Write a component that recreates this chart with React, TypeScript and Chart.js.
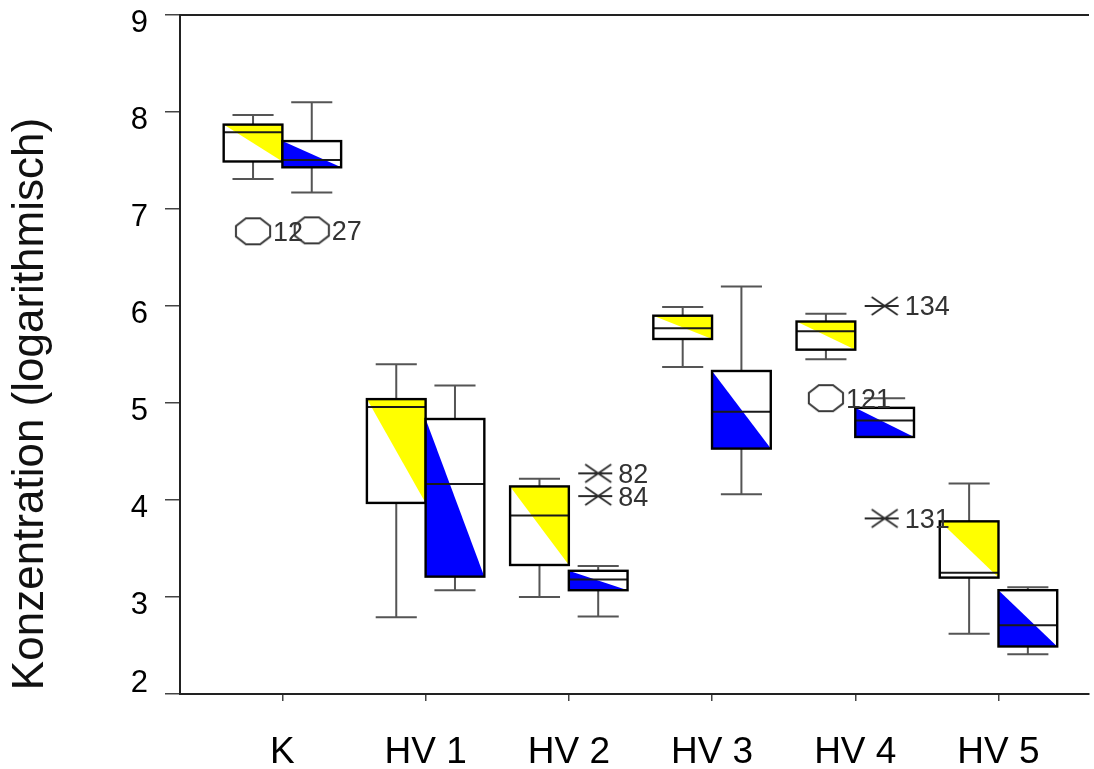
import React, { useEffect, useRef } from 'react';
import { Chart, registerables } from 'chart.js';

Chart.register(...registerables);

// ---------- data ----------
const categories = ['K', 'HV 1', 'HV 2', 'HV 3', 'HV 4', 'HV 5'];
const yTicks = [2, 3, 4, 5, 6, 7, 8, 9];
const yTitle = 'Konzentration (logarithmisch)';

// yellow series (first box of each group)
const yellowLow = [7.31, 2.79, 3.0, 5.37, 5.45, 2.62];
const yellowQ1 = [7.49, 3.97, 3.33, 5.66, 5.55, 3.2];
const yellowMedian = [7.79, 4.96, 3.84, 5.77, 5.74, 3.25];
const yellowQ3 = [7.87, 5.04, 4.14, 5.9, 5.84, 3.78];
const yellowHigh = [7.97, 5.4, 4.22, 5.99, 5.92, 4.17];

// blue series (second box of each group)
const blueLow = [7.17, 3.07, 2.8, 4.06, 4.65, 2.41];
const blueQ1 = [7.43, 3.21, 3.07, 4.53, 4.65, 2.49];
const blueMedian = [7.505, 4.165, 3.18, 4.91, 4.82, 2.71];
const blueQ3 = [7.7, 4.835, 3.27, 5.33, 4.95, 3.07];
const blueHigh = [8.1, 5.18, 3.32, 6.2, 5.05, 3.1];

// outliers (circles) and extremes (stars)
const yellowOutlierGroup = [0, 4];
const yellowOutlierValue = [6.77, 5.05];
const yellowOutlierLabel = ['12', '121'];

const blueOutlierGroup = [0];
const blueOutlierValue = [6.78];
const blueOutlierLabel = ['27'];

const blueExtremeGroup = [2, 2, 4, 4];
const blueExtremeValue = [4.275, 4.04, 6.0, 3.81];
const blueExtremeLabel = ['82', '84', '134', '131'];

// ---------- styling ----------
const FONT = '"Liberation Sans", Arial, Helvetica, sans-serif';
const YELLOW = '#FFFF00';
const BLUE = '#0000FF';
const HALF = 0.205; // half box width in category units
const OFFSET = 0.205; // offset of each box from group centre
const X_MIN = -0.715;
const X_MAX = 5.632;

function makeCircleMarker(): HTMLCanvasElement {
  const c = document.createElement('canvas');
  c.width = 42;
  c.height = 32;
  const ctx = c.getContext('2d')!;
  ctx.strokeStyle = '#3a3a3a';
  ctx.lineWidth = 2;
  const cx = 21, cy = 16, rx = 18.5, ry = 14;
  ctx.beginPath();
  for (let i = 0; i < 8; i++) {
    const a = Math.PI / 8 + (i * Math.PI) / 4;
    const x = cx + rx * Math.cos(a);
    const y = cy + ry * Math.sin(a);
    if (i === 0) ctx.moveTo(x, y);
    else ctx.lineTo(x, y);
  }
  ctx.closePath();
  ctx.stroke();
  return c;
}

function makeStarMarker(): HTMLCanvasElement {
  const c = document.createElement('canvas');
  c.width = 44;
  c.height = 24;
  const ctx = c.getContext('2d')!;
  ctx.strokeStyle = '#2a2a2a';
  ctx.lineWidth = 1.8;
  const cx = 22, cy = 12;
  ctx.beginPath();
  ctx.moveTo(cx - 13, cy - 9);
  ctx.lineTo(cx + 13, cy + 9);
  ctx.moveTo(cx - 13, cy + 9);
  ctx.lineTo(cx + 13, cy - 9);
  ctx.moveTo(cx - 20, cy);
  ctx.lineTo(cx + 14, cy);
  ctx.stroke();
  return c;
}

function drawBox(
  ctx: CanvasRenderingContext2D,
  xs: any,
  ys: any,
  center: number,
  lo: number,
  q1: number,
  med: number,
  q3: number,
  hi: number,
  color: string,
  kind: 'upper' | 'lower'
) {
  const l = xs.getPixelForValue(center - HALF);
  const r = xs.getPixelForValue(center + HALF);
  const c = xs.getPixelForValue(center);
  const capL = xs.getPixelForValue(center - HALF * 0.7);
  const capR = xs.getPixelForValue(center + HALF * 0.7);
  const pLo = ys.getPixelForValue(lo);
  const pQ1 = ys.getPixelForValue(q1);
  const pMed = ys.getPixelForValue(med);
  const pQ3 = ys.getPixelForValue(q3);
  const pHi = ys.getPixelForValue(hi);

  ctx.save();
  ctx.lineCap = 'butt';
  // whiskers
  ctx.strokeStyle = '#555';
  ctx.lineWidth = 2;
  ctx.beginPath();
  if (hi > q3) {
    ctx.moveTo(c, pQ3);
    ctx.lineTo(c, pHi);
    ctx.moveTo(capL, pHi);
    ctx.lineTo(capR, pHi);
  }
  if (lo < q1) {
    ctx.moveTo(c, pQ1);
    ctx.lineTo(c, pLo);
    ctx.moveTo(capL, pLo);
    ctx.lineTo(capR, pLo);
  }
  ctx.stroke();

  // box
  ctx.fillStyle = '#ffffff';
  ctx.fillRect(l, pQ3, r - l, pQ1 - pQ3);
  ctx.fillStyle = color;
  ctx.beginPath();
  if (kind === 'upper') {
    ctx.moveTo(l, pQ3);
    ctx.lineTo(r, pQ3);
    ctx.lineTo(r, pQ1);
  } else {
    ctx.moveTo(l, pQ3);
    ctx.lineTo(l, pQ1);
    ctx.lineTo(r, pQ1);
  }
  ctx.closePath();
  ctx.fill();

  // median
  ctx.strokeStyle = '#1a1a1a';
  ctx.lineWidth = 2;
  ctx.beginPath();
  ctx.moveTo(l, pMed);
  ctx.lineTo(r, pMed);
  ctx.stroke();

  // border
  ctx.strokeStyle = '#000';
  ctx.lineWidth = 2.4;
  ctx.strokeRect(l, pQ3, r - l, pQ1 - pQ3);
  ctx.restore();
}

const boxPlugin = {
  id: 'boxPlugin',
  beforeDatasetsDraw(chart: any) {
    const { ctx, chartArea } = chart;
    const xs = chart.scales.x;
    const ys = chart.scales.y;
    // top frame line
    ctx.save();
    ctx.strokeStyle = '#222';
    ctx.lineWidth = 2;
    ctx.beginPath();
    ctx.moveTo(chartArea.left, chartArea.top);
    ctx.lineTo(chartArea.right, chartArea.top);
    ctx.stroke();
    ctx.restore();

    for (let i = 0; i < categories.length; i++) {
      drawBox(ctx, xs, ys, i - OFFSET, yellowLow[i], yellowQ1[i], yellowMedian[i], yellowQ3[i], yellowHigh[i], YELLOW, 'upper');
      drawBox(ctx, xs, ys, i + OFFSET, blueLow[i], blueQ1[i], blueMedian[i], blueQ3[i], blueHigh[i], BLUE, 'lower');
    }
  },
  afterDatasetsDraw(chart: any) {
    const { ctx } = chart;
    ctx.save();
    ctx.font = `27px ${FONT}`;
    ctx.fillStyle = '#333';
    ctx.textAlign = 'left';
    ctx.textBaseline = 'middle';
    chart.data.datasets.forEach((ds: any, di: number) => {
      const meta = chart.getDatasetMeta(di);
      meta.data.forEach((pt: any, pi: number) => {
        const label = ds.pointLabels[pi];
        ctx.fillText(label, pt.x + 20, pt.y + 2);
      });
    });
    ctx.restore();

    // y axis title
    ctx.save();
    ctx.translate(31, 404);
    ctx.rotate(-Math.PI / 2);
    ctx.font = `44px ${FONT}`;
    ctx.fillStyle = '#111';
    ctx.textAlign = 'center';
    ctx.textBaseline = 'middle';
    ctx.fillText(yTitle, 0, 0);
    ctx.restore();
  },
};

export default function App() {
  const canvasRef = useRef<HTMLCanvasElement | null>(null);

  useEffect(() => {
    const canvas = canvasRef.current;
    if (!canvas) return;
    const circle = makeCircleMarker();
    const star = makeStarMarker();

    const chart = new Chart(canvas, {
      type: 'scatter',
      data: {
        datasets: [
          {
            label: 'yellow outliers',
            data: yellowOutlierGroup.map((g, i) => ({ x: g - OFFSET, y: yellowOutlierValue[i] })),
            pointStyle: circle as any,
            pointLabels: yellowOutlierLabel,
          } as any,
          {
            label: 'blue outliers',
            data: blueOutlierGroup.map((g, i) => ({ x: g + OFFSET, y: blueOutlierValue[i] })),
            pointStyle: circle as any,
            pointLabels: blueOutlierLabel,
          } as any,
          {
            label: 'blue extremes',
            data: blueExtremeGroup.map((g, i) => ({ x: g + OFFSET, y: blueExtremeValue[i] })),
            pointStyle: star as any,
            pointLabels: blueExtremeLabel,
          } as any,
        ],
      },
      options: {
        animation: false,
        responsive: false,
        events: [],
        layout: { padding: { top: 15, left: 0, right: 0, bottom: 0 } },
        plugins: {
          legend: { display: false },
          tooltip: { enabled: false },
          title: { display: false },
        },
        scales: {
          x: {
            type: 'linear',
            min: X_MIN,
            max: X_MAX,
            afterBuildTicks: (s: any) => {
              s.ticks = categories.map((_, i) => ({ value: i }));
            },
            afterFit: (s: any) => {
              s.height = 75;
              s.paddingLeft = 0;
              s.paddingRight = 0;
            },
            ticks: {
              autoSkip: false,
              maxRotation: 0,
              callback: (v: any) => categories[Math.round(Number(v))] ?? '',
              font: { family: FONT, size: 37 },
              color: '#000',
              padding: 30,
            },
            grid: {
              display: true,
              drawOnChartArea: false,
              drawTicks: true,
              tickLength: 7,
              color: '#444',
              lineWidth: 1.5,
            },
            border: { display: true, color: '#222', width: 2 },
          },
          y: {
            type: 'linear',
            min: yTicks[0],
            max: yTicks[yTicks.length - 1],
            afterBuildTicks: (s: any) => {
              s.ticks = yTicks.map((v) => ({ value: v }));
            },
            afterFit: (s: any) => {
              s.width = 180;
              s.paddingTop = 0;
              s.paddingBottom = 0;
            },
            ticks: {
              callback: (v: any) => (Number(v) === yTicks[0] ? [String(v), ''] : String(v)),
              font: { family: FONT, size: 31 },
              color: '#000',
              padding: 17,
              labelOffset: 8,
            },
            grid: {
              display: true,
              drawOnChartArea: false,
              drawTicks: true,
              tickLength: 15,
              color: '#444',
              lineWidth: 1.5,
            },
            border: { display: true, color: '#222', width: 2 },
          },
        },
      } as any,
      plugins: [boxPlugin],
    });
    return () => chart.destroy();
  }, []);

  return (
    <div style={{ position: 'fixed', left: 0, top: 0, width: 1094, height: 769, background: '#fff' }}>
      <canvas ref={canvasRef} width={1094} height={769} style={{ display: 'block', width: 1094, height: 769 }} />
    </div>
  );
}
